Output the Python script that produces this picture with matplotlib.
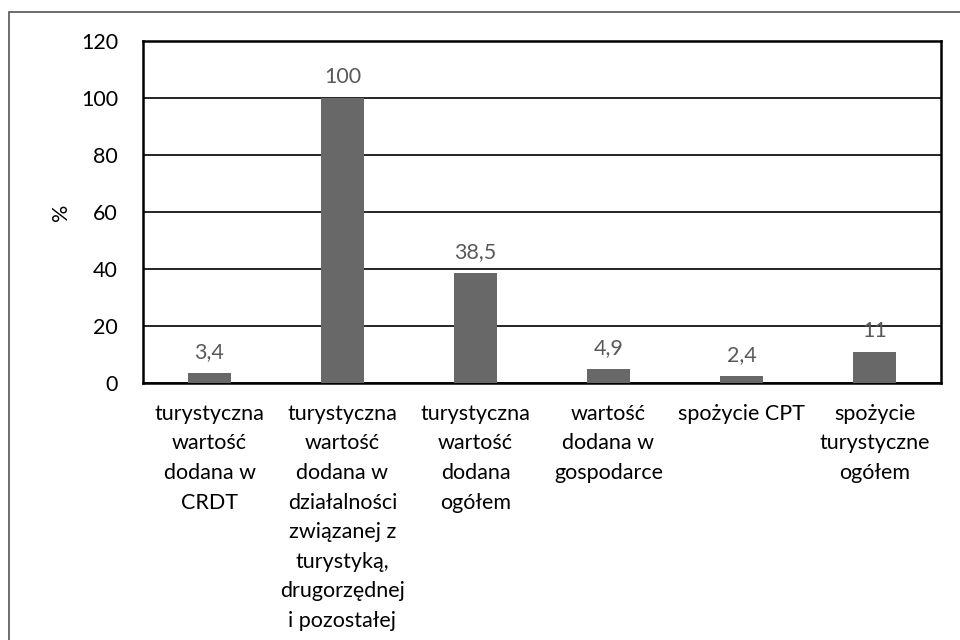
import matplotlib
matplotlib.use("Agg")
import matplotlib.pyplot as plt
from matplotlib.patches import Rectangle

# data
categories = [
    "turystyczna\nwartość\ndodana w\nCRDT",
    "turystyczna\nwartość\ndodana w\ndziałalności\nzwiązanej z\nturystyką,\ndrugorzędnej\ni pozostałej",
    "turystyczna\nwartość\ndodana\nogółem",
    "wartość\ndodana w\ngospodarce",
    "spożycie CPT",
    "spożycie\nturystyczne\nogółem",
]
values = [3.4, 100, 38.5, 4.9, 2.4, 11]
yticks = [0, 20, 40, 60, 80, 100, 120]

plt.rcParams['font.family'] = ['Lato', 'DejaVu Sans']
FS = 15.5

fig = plt.figure(figsize=(9.6, 6.4), dpi=100)
ax = fig.add_axes([143 / 960, 1 - 383 / 640, (941 - 143) / 960, (383 - 41) / 640])

# outer frame of the chart (runs off the right and bottom edge)
fig.patches.append(Rectangle((9 / 960, -0.1), 1.1, 1 - 12 / 640 + 0.1,
                             transform=fig.transFigure, fill=False,
                             edgecolor='#555555', linewidth=1.2))

x = list(range(len(values)))
bars = ax.bar(x, values, width=0.32, color='#686868', zorder=3)

for xi, v in zip(x, values):
    txt = ('%g' % v).replace('.', ',')
    ax.annotate(txt, (xi, v), xytext=(0, 8), textcoords='offset points',
                ha='center', va='bottom', fontsize=FS, color='#595959', zorder=4)

ax.set_xlim(-0.5, len(values) - 0.5)
ax.set_ylim(0, 120)
ax.set_yticks(yticks)
ax.set_yticklabels([str(t) for t in yticks], fontsize=FS)
ax.set_xticks(x)
ax.set_xticklabels(categories, fontsize=FS, linespacing=1.6, va='top')
ax.tick_params(axis='y', length=0, pad=18)
ax.tick_params(axis='x', length=0, pad=15)
ax.yaxis.grid(True, color='black', linewidth=1.2, zorder=0)
ax.set_axisbelow(True)
for s in ax.spines.values():
    s.set_color('black')
    s.set_linewidth(1.8)

ax.set_ylabel('%', fontsize=FS, labelpad=7)

fig.savefig('out.png', dpi=100)
